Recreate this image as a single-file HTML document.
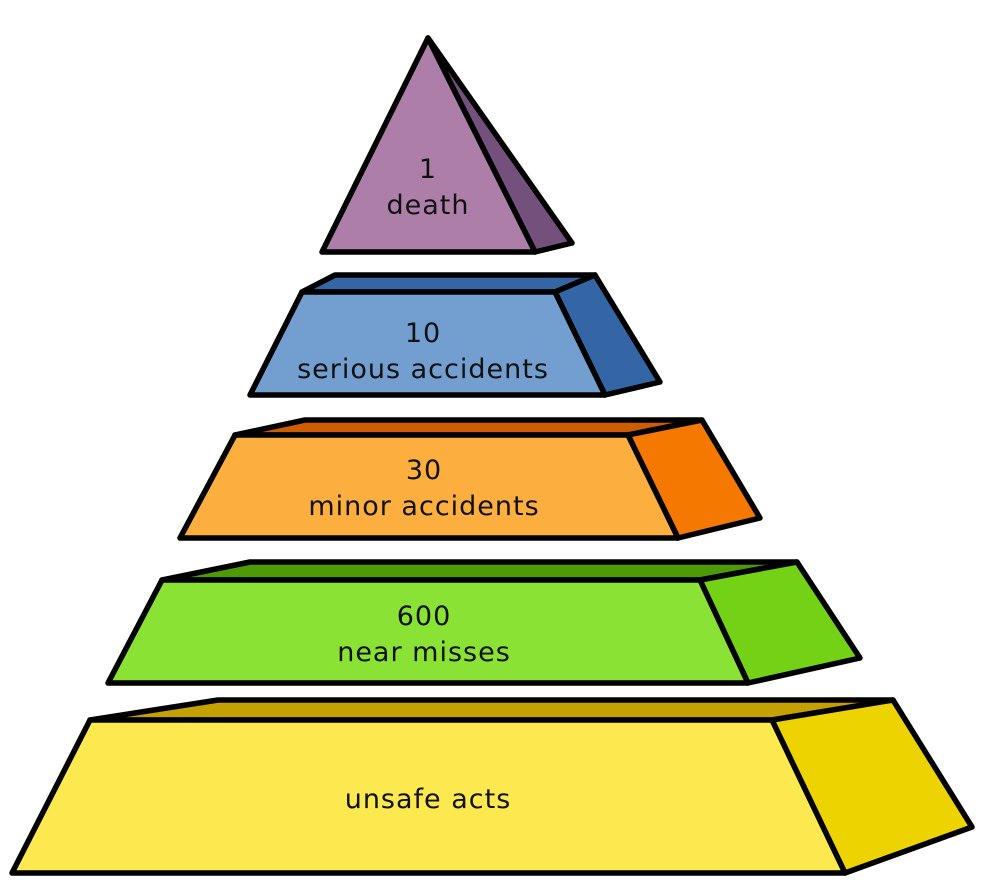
<!DOCTYPE html>
<html><head><style>body{margin:0;background:#fff}svg{display:block}</style></head><body>
<svg width="1000" height="885" viewBox="0 0 1000 885" xmlns="http://www.w3.org/2000/svg">
<g stroke="#000" stroke-width="5.5" stroke-linejoin="round">
<polygon points="428,38 572,243 535,252" fill="#74507c"/>
<polygon points="428,38 535,252 322,252" fill="#ad7fa8"/>
<polygon points="302,292 335,275 595,275 555,292" fill="#3465a4"/>
<polygon points="555,292 595,275 660,382 605,395" fill="#3465a4"/>
<polygon points="302,292 555,292 605,395 250,395" fill="#729fcf"/>
<polygon points="235,435 305,420 702,420 628,435" fill="#ce5c00"/>
<polygon points="628,435 702,420 760,518 678,538" fill="#f57900"/>
<polygon points="235,435 628,435 678,538 180,538" fill="#fcaf3e"/>
<polygon points="162,580 250,562 797,562 700,580" fill="#4e9a06"/>
<polygon points="700,580 797,562 860,658 748,683" fill="#73d216"/>
<polygon points="162,580 700,580 748,683 108,683" fill="#8ae234"/>
<polygon points="90,720 218,700 893,700 772,720" fill="#c4a000"/>
<polygon points="772,720 893,700 972,827 845,873" fill="#edd400"/>
<polygon points="90,720 772,720 845,873 12,873" fill="#fce94f"/>
</g>
<g font-family="DejaVu Sans, sans-serif" font-size="27" letter-spacing="1" text-anchor="middle" fill="#111">
<text x="428" y="178">1</text><text x="428" y="214">death</text>
<text x="423" y="342">10</text><text x="423" y="378">serious accidents</text>
<text x="424" y="479">30</text><text x="424" y="515">minor accidents</text>
<text x="424" y="625">600</text><text x="424" y="661">near misses</text>
<text x="428" y="808">unsafe acts</text>
</g>
</svg>
</body></html>
